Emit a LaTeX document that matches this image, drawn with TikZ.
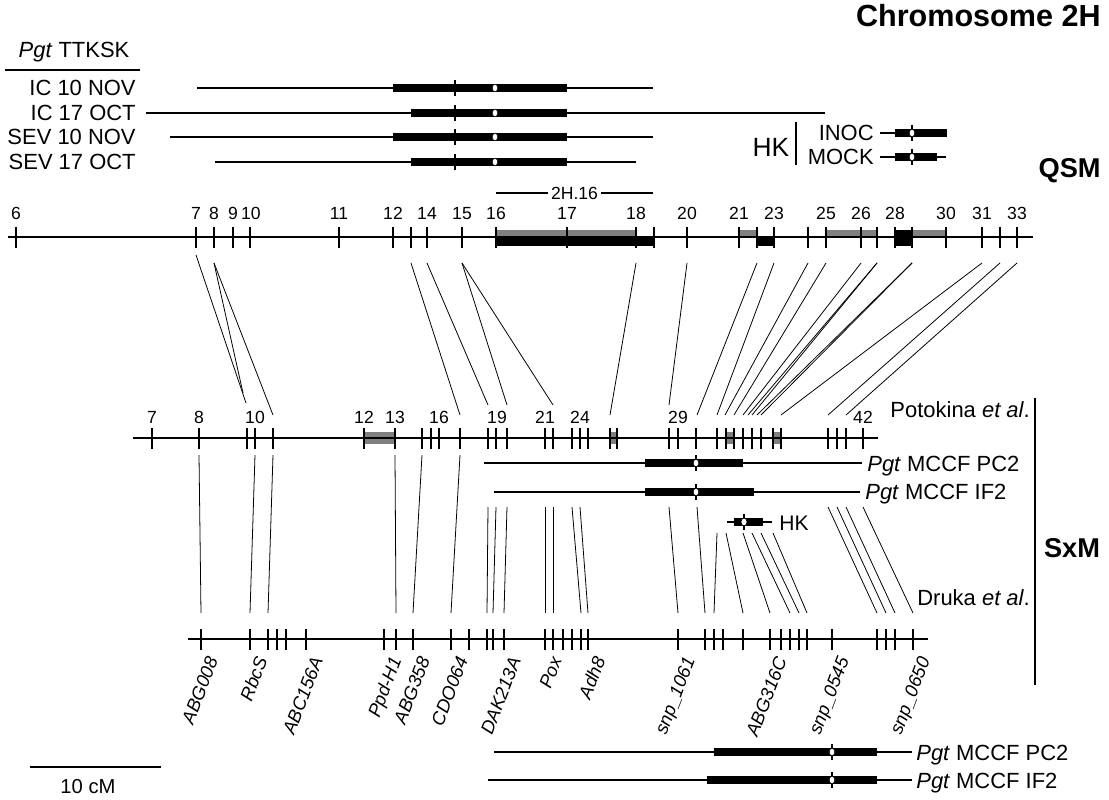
\documentclass[tikz,border=0pt]{standalone}
\usepackage{fontspec}
\setmainfont{Liberation Sans}
\definecolor{bargray}{RGB}{128,128,128}
\begin{document}
\begin{tikzpicture}[x=0.02cm,y=-0.02cm,
  ruler/.style={line width=1.1pt},
  tk/.style={line width=1.1pt},
  conn/.style={line width=0.45pt},
  thinbar/.style={line width=1pt},
  thickbar/.style={line width=4.7pt},
  mline/.style={line width=1pt},
  dot/.style={fill=white, draw=black, line width=0.3pt},
  lab/.style={inner sep=0pt, font=\fontsize{12.5}{14}\selectfont},
  num/.style={inner sep=0pt, anchor=base, font=\fontsize{10}{11}\selectfont},
  mk/.style={anchor=north east, rotate=69, inner sep=0pt, font=\fontsize{10.5}{12}\selectfont\itshape},
  bigtitle/.style={inner sep=0pt, anchor=base east, font=\fontsize{17.4}{20}\selectfont\bfseries},
  sect/.style={inner sep=0pt, font=\fontsize{15.5}{18}\selectfont\bfseries}
]
\useasboundingbox (0,0) rectangle (1109,800);

% titles
\node[bigtitle] (title) at (1101,27) {Chromosome 2H};
\node[sect, anchor=base east] (qsm) at (1101,178) {QSM};
\node[sect] (sxm) at (1072,548) {SxM};

% ---------- top QTL rows ----------
\node[lab, anchor=base] (pgt) at (74,58) {\textit{Pgt} TTKSK};
\draw[thinbar] (5,70) coordinate (u1) -- (140,70) coordinate (u2);
\foreach \y/\lab/\a/\b/\c [count=\i] in {88/IC 10 NOV/197/653/393, 113/IC 17 OCT/146/825/411, 137/SEV 10 NOV/170/653/393, 162/SEV 17 OCT/215/636/411}{
  \node[lab, anchor=base east] (row\i) at (136,\y+8) {\lab};
  \draw[thinbar] (\a,\y) coordinate (rs\i) -- (\b,\y) coordinate (re\i);
  \draw[thickbar] (\c,\y) -- (567,\y);
  \draw[mline] (455,\y-8) coordinate (dm\i) -- (455,\y+8);
  \path[dot] (495,\y) ellipse[x radius=1.6pt, y radius=2.1pt];
}
\draw[thinbar] (496,193) coordinate (h1) -- node[fill=white, inner sep=1.5pt, font=\fontsize{10}{11}\selectfont] (h16) {2H.16} (653,193) coordinate (h2);

% HK legend
\node[lab, font=\fontsize{15}{17}\selectfont] (hk1) at (771,147) {HK};
\draw[thinbar] (796,122) coordinate (hkv1) -- (796,165) coordinate (hkv2);
\node[lab, anchor=base east] (inoc) at (874,141) {INOC};
\node[lab, anchor=base east] (mock) at (874,165) {MOCK};
\draw[thinbar] (880,133) -- (896,133);
\draw[mline] (912,125) -- (912,141);
\draw[thickbar] (895,133) -- (947,133);
\path[dot] (912,133) ellipse[x radius=1.6pt, y radius=2.1pt];
\draw[thinbar] (880,157) -- (946,157);
\draw[mline] (912,149) -- (912,165);
\draw[thickbar] (895,157) -- (937,157);
\path[dot] (912,157) ellipse[x radius=1.6pt, y radius=2.1pt];

% ---------- QSM ruler ----------
\foreach \a/\b in {496/636, 739/757, 826/877, 912/946}
  \fill[bargray] (\a,230) rectangle (\b,237);
\foreach \a/\b in {496/654, 757/774}
  \fill[black] (\a,237) rectangle (\b,246);
\fill[black] (895,230) rectangle (912,246);
\draw[ruler] (8,237) coordinate (qL) -- (1033,237) coordinate (qR);
\foreach \x in {16,196,214,233,250,339,393,411,427,462,496,567,636,654,687,739,757,774,808,826,861,877,895,912,946,982,1000,1017}
  \draw[tk] (\x,227) -- (\x,248);
\foreach \x/\n in {16/6,196/7,214/8,233/9,251/10,339/11,393/12,427/14,462/15,496/16,567/17,636/18,687/20,739/21,774/23,826/25,861/26,895/28,946/30,982/31,1017/33}
  \node[num] (ql\n) at (\x,220) {\n};

% QSM -> Potokina connectors
\foreach \xa/\ya/\xb/\yb [count=\i] in {196/255/246/403, 214/263/243/393, 214/263/273/415, 411/263/460/415, 427/263/488/405, 462/263/507/405, 462/263/553/405, 636/263/610/415, 687/263/669/405, 757/263/697/415, 774/263/717/415, 808/263/725/415, 826/263/734/415, 861/263/743/415, 877/263/748/415, 877/263/752/415, 912/263/757/415, 912/263/761/415, 982/263/781/415, 1000/263/828/415, 1017/263/846/415}{
  \coordinate (qa\i) at (\xa,\ya);
  \coordinate (pa\i) at (\xb,\yb);
  \draw[conn] (qa\i) -- (pa\i);
}

% ---------- Potokina ruler ----------
\foreach \a/\b in {364/395, 610/617, 726/734, 773/781}
  \fill[bargray] (\a,432) rectangle (\b,444);
\draw[ruler] (133,438) coordinate (pL) -- (878,438) coordinate (pR);
\foreach \x in {152,199,247,255,273,364,395,422,431,439,460,488,496,507,545,553,572,580,588,610,617,669,678,696,717,726,734,743,752,761,773,781,828,837,846,863}
  \draw[tk] (\x,428) -- (\x,449);
\foreach \x/\n in {152/7,199/8,255/10,364/12,395/13,439/16,497/19,545/21,580/24,678/29,863/42}
  \node[num] (pl\n) at (\x,423) {\n};
\node[lab, anchor=base east] (poto) at (1030,418) {Potokina \textit{et al}.};
\draw[thinbar] (1035,398) coordinate (sv1) -- (1035,685) coordinate (sv2);

% SxM QTL bars
\draw[thinbar] (484,463) -- (862,463);
\draw[mline] (696,455) -- (696,471);
\draw[thickbar] (645,463) -- (743,463);
\path[dot] (696,463) ellipse[x radius=1.6pt, y radius=2.1pt];
\node[lab, anchor=base west] (pc2a) at (867,471) {\textit{Pgt} MCCF PC2};
\draw[thinbar] (494,492) -- (860,492);
\draw[mline] (696,484) -- (696,500);
\draw[thickbar] (645,492) -- (754,492);
\path[dot] (696,492) ellipse[x radius=1.6pt, y radius=2.1pt];
\node[lab, anchor=base west] (if2a) at (865,500) {\textit{Pgt} MCCF IF2};
\draw[thinbar] (727,522) -- (772,522);
\draw[mline] (744,514) -- (744,530);
\draw[thickbar] (734,522) -- (763,522);
\path[dot] (744,522) ellipse[x radius=1.7pt, y radius=2.2pt];
\node[lab, anchor=base west, font=\fontsize{12}{14}\selectfont] (hk2) at (779,530) {HK};

% Potokina -> Druka connectors
\foreach \xa/\ya/\xb [count=\i] in {199/455/201, 255/455/250, 273/455/268, 395/455/396, 422/455/413, 460/455/451, 488/507/487, 496/507/493, 507/507/504, 545/507/545, 553/507/553, 572/507/581, 580/507/588, 669/507/678, 697/507/705, 717/533/714, 726/533/743, 743/533/770, 752/533/790, 761/533/799, 773/533/807, 828/507/877, 837/507/886, 846/507/895, 863/507/913}{
  \coordinate (pb\i) at (\xa,\ya);
  \coordinate (db\i) at (\xb,613);
  \draw[conn] (pb\i) -- (db\i);
}
\node[lab, anchor=base east] (druka) at (1030,605) {Druka \textit{et al}.};

% ---------- Druka ruler ----------
\draw[ruler] (188,639) coordinate (dL) -- (928,639) coordinate (dR);
\foreach \x in {201,250,268,277,286,306,384,396,413,451,469,487,493,504,545,553,563,572,581,588,678,705,714,723,743,770,781,790,799,807,832,877,886,895,913}
  \draw[tk] (\x,629) -- (\x,650);
\foreach \x/\n [count=\i] in {201/ABG008, 250/RbcS, 306/ABC156A, 384/Ppd-H1, 413/ABG358, 451/CDO064, 504/DAK213A, 545/Pox, 588/Adh8, 678/snp\_1061, 770/ABG316C, 832/snp\_0545, 913/snp\_0650}
  \node[mk] (mk\i) at (\x+5,655) {\n};

% bottom QTL bars
\draw[thinbar] (494,752) -- (912,752);
\draw[mline] (832,744) -- (832,760);
\draw[thickbar] (714,752) -- (877,752);
\path[dot] (832,752) ellipse[x radius=1.6pt, y radius=2.1pt];
\node[lab, anchor=base west] (pc2b) at (916,760) {\textit{Pgt} MCCF PC2};
\draw[thinbar] (488,780) -- (912,780);
\draw[mline] (832,772) -- (832,788);
\draw[thickbar] (707,780) -- (793,780);
\draw[line width=4.3pt] (793,780) -- (877,780);
\path[dot] (832,780) ellipse[x radius=1.6pt, y radius=2.1pt];
\node[lab, anchor=base west] (if2b) at (916,788) {\textit{Pgt} MCCF IF2};

% scale bar
\draw[thinbar] (30,767) coordinate (s1) -- (161,767) coordinate (s2);
\node[lab, anchor=base, font=\fontsize{11.5}{13}\selectfont] (scl) at (88,793) {10 cM};
\end{tikzpicture}
\end{document}
